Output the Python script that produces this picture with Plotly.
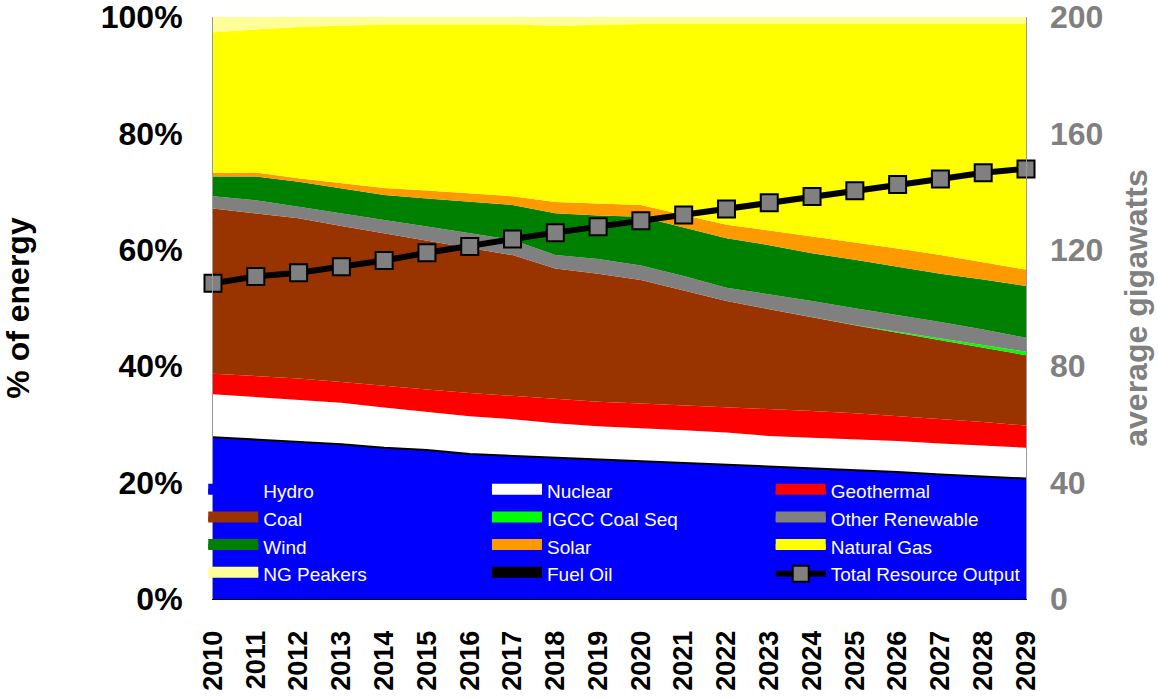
import plotly.graph_objects as go

years = list(range(2010, 2030))

# share of energy, percent
hydro = [27.8, 27.4, 27.0, 26.6, 26.0, 25.6, 24.9, 24.6, 24.2, 23.9, 23.6, 23.3, 23.0, 22.7, 22.4, 22.1, 21.8, 21.4, 21.0, 20.7]
nuclear = [7.4, 7.3, 7.3, 7.1, 6.9, 6.6, 6.5, 6.3, 6.0, 5.8, 5.8, 5.7, 5.6, 5.3, 5.3, 5.3, 5.3, 5.3, 5.3, 5.3]
geothermal = [3.5, 3.6, 3.6, 3.6, 3.7, 3.8, 4.0, 4.0, 4.3, 4.2, 4.2, 4.3, 4.3, 4.6, 4.6, 4.5, 4.3, 4.2, 4.1, 3.8]
coal = [28.4, 28.0, 27.5, 26.8, 26.2, 25.5, 24.9, 24.2, 22.3, 22.0, 21.2, 19.7, 18.3, 17.2, 16.1, 15.1, 14.3, 13.6, 12.8, 12.1]
igcc = [0, 0, 0, 0, 0, 0, 0, 0, 0, 0, 0, 0, 0, 0, 0, 0.05, 0.15, 0.3, 0.5, 0.6]
other_renew = [2.1, 2.2, 2.0, 2.1, 2.3, 2.5, 2.5, 2.6, 2.3, 2.5, 2.5, 2.5, 2.3, 2.6, 2.8, 2.9, 2.9, 2.8, 2.6, 2.4]
wind = [3.4, 4.1, 4.3, 4.3, 4.3, 4.8, 5.5, 6.0, 7.2, 7.5, 8.4, 8.4, 8.5, 8.4, 8.2, 8.3, 8.2, 8.3, 8.6, 8.9]
solar = [0.6, 0.7, 0.6, 0.9, 1.2, 1.4, 1.4, 1.5, 1.9, 2.1, 2.0, 2.1, 2.3, 2.5, 2.9, 3.0, 3.2, 3.2, 3.0, 2.8]
natural_gas = [24.2, 24.6, 26.0, 27.1, 28.1, 28.5, 29.0, 29.5, 30.3, 30.7, 31.1, 32.8, 34.5, 35.5, 36.5, 37.5, 38.5, 39.7, 40.9, 42.2]
ng_peakers = [2.6, 2.1, 1.7, 1.5, 1.3, 1.3, 1.3, 1.3, 1.5, 1.3, 1.2, 1.2, 1.2, 1.2, 1.2, 1.2, 1.2, 1.2, 1.2, 1.2]
fuel_oil = [0] * 20

# average gigawatts (right axis)
total_output = [108.5, 110.8, 112.1, 114.2, 116.3, 119.0, 121.1, 123.7, 125.9, 127.9,
                130.0, 132.0, 134.0, 136.2, 138.3, 140.3, 142.4, 144.3, 146.5, 147.8]

pct_ticks = [0, 20, 40, 60, 80, 100]
pct_labels = ["0%", "20%", "40%", "60%", "80%", "100%"]
gw_ticks = [0, 40, 80, 120, 160, 200]

series = [
    ("Hydro", hydro, "#0000FF", "legend"),
    ("Nuclear", nuclear, "#FFFFFF", "legend2"),
    ("Geothermal", geothermal, "#FF0000", "legend3"),
    ("Coal", coal, "#993300", "legend"),
    ("IGCC Coal Seq", igcc, "#00FF00", "legend2"),
    ("Other Renewable", other_renew, "#808080", "legend3"),
    ("Wind", wind, "#008000", "legend"),
    ("Solar", solar, "#FF9900", "legend2"),
    ("Natural Gas", natural_gas, "#FFFF00", "legend3"),
    ("NG Peakers", ng_peakers, "#FFFF99", "legend"),
    ("Fuel Oil", fuel_oil, "#000000", "legend2"),
]

FONT = "Arial, Liberation Sans, sans-serif"

fig = go.Figure()

for name, vals, color, _ in series:
    line = dict(width=2, color="black") if name == "Hydro" else dict(width=0, color=color)
    fig.add_trace(go.Scatter(
        x=years, y=vals, name=name, stackgroup="one", groupnorm="percent",
        mode="lines", line=line, fillcolor=color, showlegend=False,
    ))

# legend entries (legend-only)
for lg in ["legend", "legend2", "legend3"]:
    for name, vals, color, target in series:
        if target != lg:
            continue
        fig.add_trace(go.Scatter(
            x=[None], y=[None], name=name, mode="lines", fill="tozeroy",
            fillcolor=color, line=dict(color=color, width=10),
            legend=lg, legendgroup=name, showlegend=True, hoverinfo="skip",
        ))
    if lg == "legend3":
        fig.add_trace(go.Scatter(
            x=years, y=total_output, name="Total Resource Output", yaxis="y2",
            mode="lines+markers", line=dict(color="black", width=6),
            marker=dict(symbol="square", size=17, color="#808080",
                        line=dict(color="black", width=2)),
            cliponaxis=False, legend="legend3", legendgroup="total",
        ))

legend_common = dict(
    xanchor="left", yanchor="top", orientation="v", traceorder="normal",
    bgcolor="rgba(0,0,0,0)", borderwidth=0, itemwidth=50, tracegroupgap=4,
    font=dict(family=FONT, size=19, color="white"), itemclick=False,
)

fig.update_layout(
    width=1158, height=700,
    margin=dict(l=213, r=132, t=17, b=101, autoexpand=False),
    paper_bgcolor="white", plot_bgcolor="white",
    font=dict(family=FONT),
    xaxis=dict(
        range=[2010, 2029], tickvals=years, ticktext=[str(y) for y in years],
        tickangle=-90, tickfont=dict(family=FONT, size=27, color="black", weight="bold"),
        showgrid=False, zeroline=False, showline=True, linecolor="black", linewidth=1,
        ticks="", ticklabelstandoff=20, ticklabeloverflow="allow",
    ),
    yaxis=dict(
        range=[0, 100], tickmode="array", tickvals=pct_ticks, ticktext=pct_labels,
        tickfont=dict(family=FONT, size=32, color="black", weight="bold"),
        showgrid=False, zeroline=False, showline=True, linecolor="#999999", mirror=True,
        ticks="", ticklabelstandoff=23, ticklabeloverflow="allow",
        title=dict(text="% of energy", standoff=69,
                   font=dict(family=FONT, size=32, color="black", weight="bold")),
    ),
    yaxis2=dict(
        range=[0, 200], tickmode="array", tickvals=gw_ticks, overlaying="y", side="right",
        tickfont=dict(family=FONT, size=32, color="#808080", weight="bold"),
        showgrid=False, zeroline=False, showline=False, ticks="", ticklabelstandoff=23,
        ticklabeloverflow="allow",
        title=dict(text="average gigawatts", standoff=22,
                   font=dict(family=FONT, size=32, color="#808080", weight="bold")),
    ),
    legend=dict(x=-0.012, y=0.2185, **legend_common),
    legend2=dict(x=0.337, y=0.2185, **legend_common),
    legend3=dict(x=0.686, y=0.2185, **legend_common),
    showlegend=True,
)

fig.write_html("out.html", config={"displayModeBar": False},
               post_script="document.body.style.margin='0';")
